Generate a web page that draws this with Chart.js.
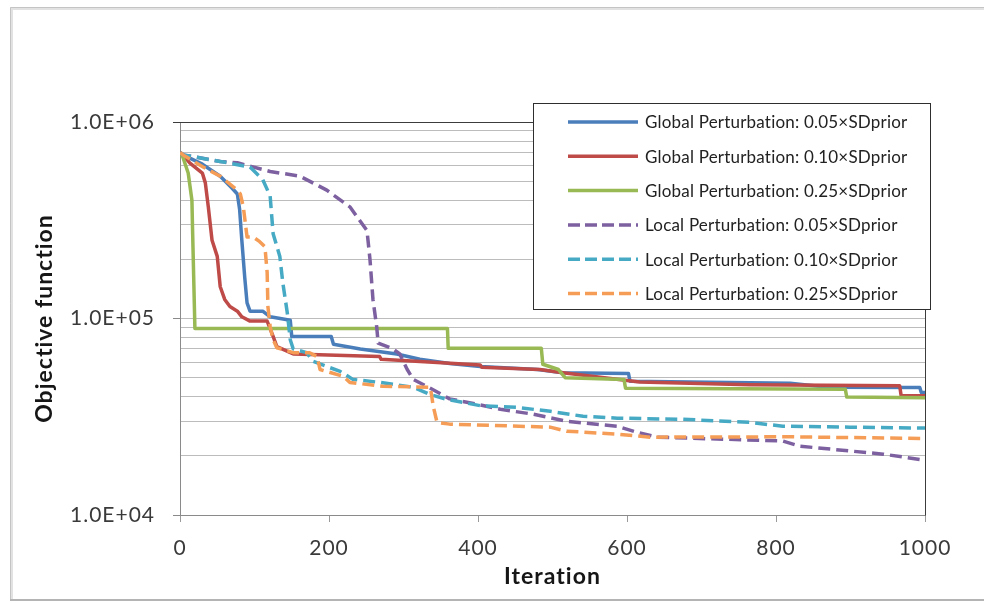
<!DOCTYPE html>
<html>
<head>
<meta charset="utf-8">
<title>Objective function vs iteration</title>
<script src="https://cdn.jsdelivr.net/npm/chart.js@4/dist/chart.umd.min.js"></script>
<style>
  html, body { margin: 0; padding: 0; background: #ffffff; }
  canvas { display: block; }
</style>
</head>
<body>
<canvas id="chart" width="984" height="603"></canvas>
<script>
// ---- series labels ----
const seriesLabels = [
  'Global Perturbation: 0.05×SDprior',
  'Global Perturbation: 0.10×SDprior',
  'Global Perturbation: 0.25×SDprior',
  'Local Perturbation: 0.05×SDprior',
  'Local Perturbation: 0.10×SDprior',
  'Local Perturbation: 0.25×SDprior'
];

// ---- Global perturbation, 0.05 x SDprior ----
const global005Iter = [0, 4, 30, 54, 70, 77, 80, 83, 87, 90, 94, 111, 121, 148, 150, 203, 206, 242, 291, 322, 362, 403, 480, 514, 602, 604, 819, 870, 993, 995, 1000];
const global005Obj  = [7.0e5, 6.8e5, 6.1e5, 5.3e5, 4.6e5, 4.3e5, 3.6e5, 2.5e5, 1.6e5, 1.2e5, 1.09e5, 1.09e5, 1.02e5, 9.8e4, 8.1e4, 8.1e4, 7.4e4, 7.0e4, 6.6e4, 6.2e4, 5.9e4, 5.7e4, 5.5e4, 5.3e4, 5.25e4, 4.8e4, 4.68e4, 4.47e4, 4.45e4, 4.2e4, 4.2e4];

// ---- Global perturbation, 0.10 x SDprior ----
const global010Iter = [0, 4, 13, 30, 34, 38, 43, 50, 54, 60, 67, 77, 83, 94, 117, 125, 130, 152, 268, 270, 403, 405, 483, 514, 617, 765, 966, 968, 1000];
const global010Obj  = [7.0e5, 6.8e5, 6.2e5, 5.5e5, 4.9e5, 3.7e5, 2.5e5, 2.07e5, 1.45e5, 1.25e5, 1.15e5, 1.09e5, 1.02e5, 9.7e4, 9.7e4, 8.1e4, 7.2e4, 6.6e4, 6.4e4, 6.2e4, 5.8e4, 5.65e4, 5.5e4, 5.3e4, 4.75e4, 4.6e4, 4.55e4, 4.05e4, 4.05e4];

// ---- Global perturbation, 0.25 x SDprior ----
const global025Iter = [0, 4, 11, 16, 17, 20, 359, 360, 485, 487, 508, 517, 596, 598, 893, 895, 1000];
const global025Obj  = [7.0e5, 6.6e5, 5.5e5, 4.0e5, 2.7e5, 8.9e4, 8.9e4, 7.05e4, 7.05e4, 5.85e4, 5.5e4, 5.0e4, 4.9e4, 4.42e4, 4.37e4, 3.98e4, 3.95e4];

// ---- Local perturbation, 0.05 x SDprior ----
const local005Iter = [0, 4, 54, 77, 121, 161, 197, 228, 251, 255, 259, 264, 266, 286, 295, 305, 313, 332, 362, 399, 430, 474, 519, 587, 613, 640, 809, 832, 944, 1000];
const local005Obj  = [7.0e5, 6.8e5, 6.3e5, 6.2e5, 5.6e5, 5.3e5, 4.5e5, 3.7e5, 2.8e5, 2.0e5, 1.25e5, 9.1e4, 7.5e4, 7.0e4, 6.6e4, 5.5e4, 4.9e4, 4.5e4, 3.9e4, 3.66e4, 3.45e4, 3.26e4, 3.0e4, 2.83e4, 2.64e4, 2.49e4, 2.38e4, 2.24e4, 2.04e4, 1.9e4];

// ---- Local perturbation, 0.10 x SDprior ----
const local010Iter = [0, 4, 54, 94, 111, 121, 125, 134, 138, 144, 148, 152, 170, 179, 197, 215, 232, 268, 313, 336, 358, 403, 452, 497, 541, 587, 675, 765, 809, 899, 1000];
const local010Obj  = [7.0e5, 6.8e5, 6.3e5, 5.9e5, 5.1e5, 4.2e5, 2.7e5, 2.07e5, 1.52e5, 1.07e5, 7.8e4, 7.0e4, 6.7e4, 6.05e4, 5.7e4, 5.38e4, 4.9e4, 4.73e4, 4.47e4, 4.1e4, 3.88e4, 3.6e4, 3.53e4, 3.37e4, 3.18e4, 3.11e4, 3.07e4, 2.96e4, 2.83e4, 2.8e4, 2.77e4];

// ---- Local perturbation, 0.25 x SDprior ----
const local025Iter = [0, 4, 31, 54, 77, 81, 85, 90, 98, 107, 114, 117, 118, 121, 125, 130, 152, 174, 184, 188, 219, 228, 272, 336, 340, 345, 362, 497, 519, 587, 631, 819, 1000];
const local025Obj  = [7.0e5, 6.8e5, 5.9e5, 5.3e5, 4.5e5, 4.3e5, 3.7e5, 2.6e5, 2.6e5, 2.46e5, 2.32e5, 1.71e5, 1.15e5, 9.1e4, 7.8e4, 7.1e4, 6.7e4, 6.7e4, 6.4e4, 5.5e4, 5.08e4, 4.73e4, 4.52e4, 4.47e4, 3.57e4, 2.96e4, 2.9e4, 2.8e4, 2.67e4, 2.58e4, 2.49e4, 2.5e4, 2.45e4];

// ---- axis ticks ----
const xTickValues = [0, 200, 400, 600, 800, 1000];
const xTickLabels = ['0', '200', '400', '600', '800', '1000'];
const yMajorValues = [1e4, 1e5, 1e6];
const yMajorLabels = ['1.0E+04', '1.0E+05', '1.0E+06'];

const iterSets = [global005Iter, global010Iter, global025Iter, local005Iter, local010Iter, local025Iter];
const objSets  = [global005Obj,  global010Obj,  global025Obj,  local005Obj,  local010Obj,  local025Obj];
const colors   = ['#4A7EBB', '#BE4B48', '#98B954', '#7D60A0', '#46AAC5', '#F59D56'];
const dashed   = [false, false, false, true, true, true];

const FONT = 'Lato, "Open Sans", "DejaVu Sans", sans-serif';

const datasets = seriesLabels.map((label, i) => ({
  label,
  data: iterSets[i].map((x, k) => ({ x, y: objSets[i][k] })),
  borderColor: colors[i],
  backgroundColor: colors[i],
  borderWidth: 3.5,
  borderDash: dashed[i] ? [12, 6] : [],
  borderJoinStyle: 'round',
  borderCapStyle: 'butt',
  pointRadius: 0,
  tension: 0,
  fill: false,
  order: seriesLabels.length - i
}));

// white page with a light frame around the chart; slightly spaced axis text
const framePlugin = {
  id: 'frame',
  beforeDraw(chart) {
    const ctx = chart.ctx;
    ctx.save();
    ctx.fillStyle = '#ffffff';
    ctx.fillRect(0, 0, chart.width, chart.height);
    ctx.strokeStyle = '#e2e2e2';
    ctx.lineWidth = 3;
    ctx.beginPath();
    ctx.moveTo(11.5, chart.height - 3);
    ctx.lineTo(11.5, 8.5);
    ctx.lineTo(chart.width + 5, 8.5);
    ctx.stroke();
    ctx.strokeStyle = '#c4c4c4';
    ctx.lineWidth = 1;
    ctx.beginPath();
    ctx.moveTo(10.5, chart.height - 3);
    ctx.lineTo(10.5, 7.5);
    ctx.lineTo(chart.width + 5, 7.5);
    ctx.stroke();
    ctx.strokeStyle = '#b4b4b4';
    ctx.lineWidth = 2;
    ctx.beginPath();
    ctx.moveTo(10, 600);
    ctx.lineTo(chart.width + 5, 600);
    ctx.stroke();
    ctx.restore();
    if ('letterSpacing' in ctx) ctx.letterSpacing = '1px';
  }
};

// dark border on the top and right of the plot area
const plotBorderPlugin = {
  id: 'plotBorder',
  beforeDatasetsDraw(chart) {
    const { ctx, chartArea: a } = chart;
    ctx.save();
    ctx.strokeStyle = '#3c3c3c';
    ctx.lineWidth = 1;
    ctx.beginPath();
    ctx.moveTo(a.left - 7, Math.round(a.top) + 0.5);
    ctx.lineTo(Math.round(a.right) + 0.5, Math.round(a.top) + 0.5);
    ctx.lineTo(Math.round(a.right) + 0.5, Math.round(a.bottom) + 0.5);
    ctx.stroke();
    ctx.restore();
  }
};

// boxed legend overlapping the upper right of the plot
const boxLegendPlugin = {
  id: 'boxLegend',
  afterDatasetsDraw(chart, args, opts) {
    const { ctx, chartArea: a } = chart;
    const left = a.right + opts.offsetRight - opts.width;
    const top = a.top + opts.offsetTop;
    ctx.save();
    if ('letterSpacing' in ctx) ctx.letterSpacing = '0.2px';
    ctx.fillStyle = '#ffffff';
    ctx.fillRect(left, top, opts.width, opts.height);
    ctx.strokeStyle = '#2e2e2e';
    ctx.lineWidth = 1;
    ctx.strokeRect(Math.round(left) + 0.5, Math.round(top) + 0.5, opts.width, opts.height);
    ctx.font = opts.fontSize + 'px ' + FONT;
    ctx.textBaseline = 'middle';
    ctx.textAlign = 'left';
    chart.data.datasets.forEach((ds, i) => {
      const y = top + opts.firstRow + i * opts.rowStep;
      ctx.strokeStyle = ds.borderColor;
      ctx.lineWidth = ds.borderWidth;
      ctx.setLineDash(ds.borderDash.length ? [12, 5] : []);
      ctx.beginPath();
      ctx.moveTo(left + opts.sampleStart, y);
      ctx.lineTo(left + opts.sampleStart + opts.sampleLength, y);
      ctx.stroke();
      ctx.setLineDash([]);
      ctx.fillStyle = '#222222';
      ctx.fillText(ds.label, left + opts.textStart, y + 1);
    });
    ctx.restore();
  }
};

new Chart(document.getElementById('chart'), {
  type: 'line',
  data: { datasets },
  plugins: [framePlugin, plotBorderPlugin, boxLegendPlugin],
  options: {
    responsive: false,
    animation: false,
    devicePixelRatio: 1,
    layout: { padding: { left: 0, top: 122, right: 59, bottom: 0 } },
    plugins: {
      legend: { display: false },
      tooltip: { enabled: false },
      boxLegend: {
        width: 397, height: 206, offsetRight: 5, offsetTop: -19,
        firstRow: 19, rowStep: 34.3, sampleStart: 35, sampleLength: 70, textStart: 112,
        fontSize: 17
      }
    },
    scales: {
      x: {
        type: 'linear',
        min: 0, max: 1000,
        afterBuildTicks(axis) { axis.ticks = xTickValues.map(v => ({ value: v })); },
        afterFit(axis) { axis.height = 88; },
        ticks: {
          autoSkip: false,
          maxRotation: 0,
          padding: 14,
          color: '#3a3a3a',
          font: { family: FONT, size: 21 },
          callback: (v) => xTickLabels[xTickValues.indexOf(v)] ?? ''
        },
        grid: { drawOnChartArea: false, drawTicks: true, tickLength: 7, color: '#9a9a9a' },
        border: { display: true, color: '#8a8a8a', width: 1 },
        title: {
          display: true, text: 'Iteration', color: '#161616',
          font: { family: FONT, size: 23, weight: 'bold' },
          padding: { top: 0, bottom: 13 }
        }
      },
      y: {
        type: 'logarithmic',
        min: 1e4, max: 1e6,
        afterBuildTicks(axis) {
          const ticks = [];
          for (let e = 4; e < 6; e++) {
            for (let m = 1; m <= 9; m++) ticks.push({ value: m * Math.pow(10, e) });
          }
          ticks.push({ value: 1e6 });
          axis.ticks = ticks;
        },
        afterFit(axis) { axis.width = 180; },
        ticks: {
          autoSkip: false,
          padding: 18,
          color: '#3a3a3a',
          font: { family: FONT, size: 21 },
          callback: (v) => {
            const k = yMajorValues.findIndex(m => Math.abs(m - v) < 1e-6 * m);
            return k >= 0 ? yMajorLabels[k] : '';
          }
        },
        grid: {
          drawOnChartArea: true, drawTicks: true, tickLength: 7,
          color: '#bcbcbc',
          tickColor: (c) => yMajorValues.some(m => Math.abs(m - c.tick.value) < 1e-6 * m) ? '#8a8a8a' : 'rgba(0,0,0,0)'
        },
        border: { display: true, color: '#8a8a8a', width: 1 },
        title: {
          display: true, text: 'Objective function', color: '#161616',
          font: { family: FONT, size: 23, weight: 'bold' },
          padding: { top: 31, bottom: 0 }
        }
      }
    }
  }
});
</script>
</body>
</html>
